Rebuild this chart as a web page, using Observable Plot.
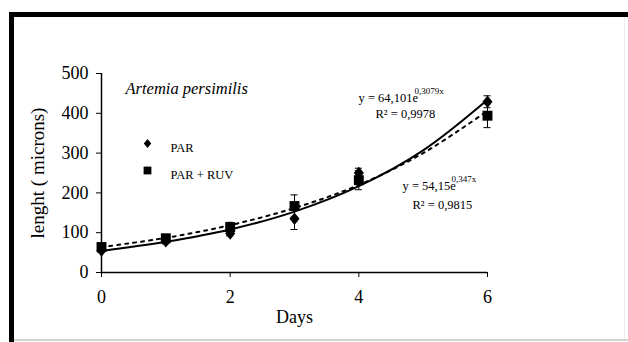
<!DOCTYPE html>
<html><head><meta charset="utf-8">
<script src="https://cdn.jsdelivr.net/npm/d3@7"></script>
<script src="https://cdn.jsdelivr.net/npm/@observablehq/plot@0.6"></script>
<style>
html,body{margin:0;padding:0;background:#fff;}
#wrap{position:relative;width:628px;height:342px;overflow:hidden;}
#chart{position:absolute;left:0;top:0;}
.bar{position:absolute;background:#000;}
svg text{font-family:"Liberation Serif","Times New Roman",serif;}
</style></head><body>
<div id="wrap">
<div id="chart"></div>
<div class="bar" style="left:9px;top:12px;width:619px;height:5px"></div>
<div class="bar" style="left:9px;top:12px;width:5px;height:330px"></div>
<div style="position:absolute;left:14px;top:339px;width:614px;height:2px;background:#d4d4d4"></div>
<div style="position:absolute;left:624px;top:17px;width:1px;height:322px;background:#ececec"></div>
</div>
<script>
// Measured data
const days = [0, 1, 2, 3, 4, 6];
const par = [55, 78, 98, 135, 250, 429];
const parErr = [5, 6, 6, 27, 12, 15];
const parRuv = [64, 86, 114, 167, 232, 394];
const parRuvErr = [6, 6, 12, 28, 24, 30];
// Trend lines at each day
const trendDays = [0, 1, 2, 3, 4, 5, 6];
const parTrend = [54, 77, 108, 153, 217, 307, 434];
const parRuvTrend = [64, 87, 119, 162, 220, 300, 406];
const xTicks = [0, 2, 4, 6];
const yTicks = [0, 100, 200, 300, 400, 500];
const seriesNames = ["PAR", "PAR + RUV"];

const pts = days.flatMap((d, i) => [
  {day: d, v: par[i], e: parErr[i], s: seriesNames[0]},
  {day: d, v: parRuv[i], e: parRuvErr[i], s: seriesNames[1]}
]);
const trendA = trendDays.map((d, i) => ({day: d, v: parTrend[i]}));
const trendB = trendDays.map((d, i) => ({day: d, v: parRuvTrend[i]}));
const cap = 0.055;
const F = '"Liberation Serif", "Times New Roman", serif';
const diamond = {
  draw(ctx, size) {
    const r = Math.sqrt(size / Math.PI), w = r * 0.9, h = r * 1.1;
    ctx.moveTo(0, -h); ctx.lineTo(w, 0); ctx.lineTo(0, h); ctx.lineTo(-w, 0); ctx.closePath();
  }
};

const plot = Plot.plot({
  width: 628, height: 342,
  marginLeft: 101, marginRight: 141, marginTop: 73, marginBottom: 70,
  style: {fontFamily: F, fontSize: "16px", background: "transparent", color: "#000"},
  x: {domain: [0, 6]},
  y: {domain: [0, 500]},
  marks: [
    Plot.axisY({ticks: yTicks, tickFormat: d => String(d), tickSize: 5, tickPadding: 8, label: null, fontSize: 18, fontFamily: F}),
    Plot.axisX({ticks: xTicks, tickFormat: d => String(d), tickSize: 5, tickPadding: 13, label: null, fontSize: 18, fontFamily: F}),
    Plot.ruleX([0], {stroke: "#000", strokeWidth: 1.5}),
    Plot.ruleY([0], {stroke: "#000", strokeWidth: 1.5}),
    Plot.text(["lenght ( microns)"], {frameAnchor: "left", dx: -64, rotate: -90, fontSize: 19, textAnchor: "middle", fontFamily: F}),
    Plot.text(["Days"], {frameAnchor: "bottom", dy: 50, fontSize: 18, fontFamily: F}),
    Plot.line(trendA, {x: "day", y: "v", curve: "catmull-rom", stroke: "#000", strokeWidth: 2}),
    Plot.line(trendB, {x: "day", y: "v", curve: "catmull-rom", stroke: "#000", strokeWidth: 2, strokeDasharray: "3,5"}),
    Plot.ruleX(pts, {x: "day", y1: d => d.v - d.e, y2: d => d.v + d.e, stroke: "#000", strokeWidth: 1}),
    Plot.ruleY(pts, {y: d => d.v - d.e, x1: d => d.day - cap, x2: d => d.day + cap, stroke: "#000", strokeWidth: 1}),
    Plot.ruleY(pts, {y: d => d.v + d.e, x1: d => d.day - cap, x2: d => d.day + cap, stroke: "#000", strokeWidth: 1}),
    Plot.dot(pts.filter(d => d.s === seriesNames[0]), {x: "day", y: "v", symbol: diamond, r: 5.6, fill: "#000"}),
    Plot.dot(pts.filter(d => d.s === seriesNames[1]), {x: "day", y: "v", symbol: "square", r: 5.6, fill: "#000"}),
    // legend
    Plot.dot([seriesNames[0]], {frameAnchor: "top-left", dx: 46, dy: 70, symbol: diamond, r: 4.2, fill: "#000"}),
    Plot.dot([seriesNames[1]], {frameAnchor: "top-left", dx: 46, dy: 97, symbol: "square", r: 4.4, fill: "#000"}),
    Plot.text([seriesNames[0]], {frameAnchor: "top-left", dx: 69, dy: 70, textAnchor: "start", fontSize: 12.5, fontFamily: F}),
    Plot.text([seriesNames[1]], {frameAnchor: "top-left", dx: 69, dy: 97, textAnchor: "start", fontSize: 12.5, fontFamily: F}),
    // annotations
    Plot.text(["Artemia persimilis"], {frameAnchor: "top-left", dx: 24, dy: 9, textAnchor: "start", fontSize: 16.5, fontStyle: "italic", fontFamily: F}),
    Plot.text(["y = 64,101e"], {frameAnchor: "top-left", dx: 257, dy: 20, textAnchor: "start", fontSize: 12.5, fontFamily: F}),
    Plot.text(["0,3079x"], {frameAnchor: "top-left", dx: 313, dy: 14, textAnchor: "start", fontSize: 9, fontFamily: F}),
    Plot.text(["R² = 0,9978"], {frameAnchor: "top-left", dx: 274, dy: 36, textAnchor: "start", fontSize: 12.5, fontFamily: F}),
    Plot.text(["y = 54,15e"], {frameAnchor: "top-left", dx: 301, dy: 108, textAnchor: "start", fontSize: 12.5, fontFamily: F}),
    Plot.text(["0,347x"], {frameAnchor: "top-left", dx: 350, dy: 102, textAnchor: "start", fontSize: 9, fontFamily: F}),
    Plot.text(["R² = 0,9815"], {frameAnchor: "top-left", dx: 311, dy: 127, textAnchor: "start", fontSize: 12.5, fontFamily: F})
  ]
});
document.getElementById("chart").appendChild(plot);
</script>
</body></html>
